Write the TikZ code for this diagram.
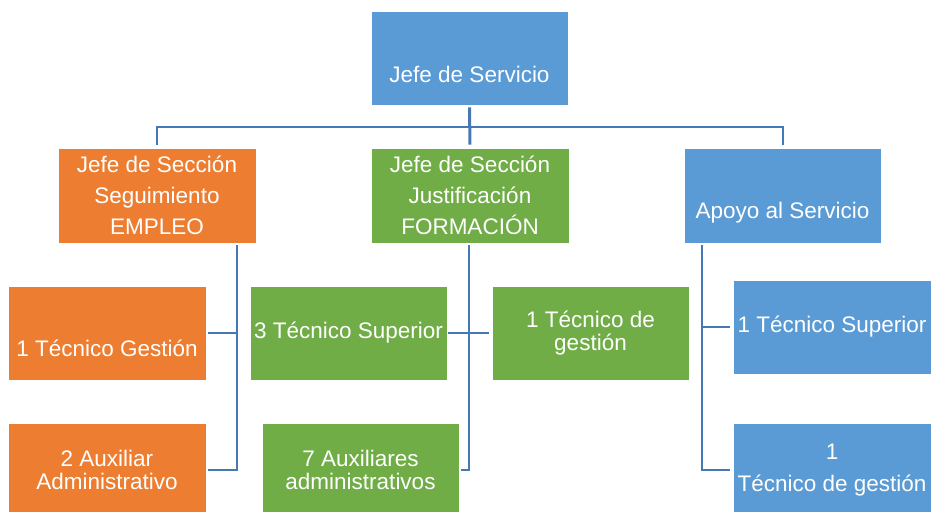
\documentclass[tikz,border=0pt]{standalone}
\usepackage{fontspec}
\setmainfont{Liberation Sans}
\definecolor{servblue}{RGB}{91, 155, 213}
\definecolor{emporange}{RGB}{237, 125, 49}
\definecolor{formgreen}{RGB}{112, 173, 71}
\definecolor{linkblue}{RGB}{70, 120, 180}
\usetikzlibrary{calc}
\newcommand{\orgfont}{\fontsize{22.5}{23}\selectfont}
\tikzset{
  orgbox/.style={fill=#1, draw=white, line width=0.8pt, text=white, font=\orgfont, align=center, inner sep=2pt, minimum width=197pt, minimum height=94pt},
  lowtext/.style={text height=#1, text depth=0pt},
  link/.style={draw=linkblue, line width=2pt}
}

\begin{document}
\begin{tikzpicture}[x=1pt, y=-1pt]
  \useasboundingbox (0, 0) rectangle (931, 511);

  % Jefe de Servicio
  \node[orgbox=servblue, lowtext=48pt] (serv) at (469.5, 58) {Jefe de Servicio};

  % Secciones
  \node[orgbox=emporange, minimum width=198pt, minimum height=95pt] (jemp) at (157, 195.5) {Jefe de Sección\\[8pt]Seguimiento\\[8pt]EMPLEO};
  \node[orgbox=formgreen, minimum width=198pt, minimum height=95pt] (jform) at (470, 195.5) {Jefe de Sección\\[8pt]Justificación\\[8pt]FORMACIÓN};
  \node[orgbox=servblue, minimum height=95pt, lowtext=45pt] (apoyo) at (782.5, 195.5) {Apoyo al Servicio};

  % Personal
  \node[orgbox=emporange, minimum width=198pt, lowtext=46pt] (emp1) at (107, 333) {1 Técnico Gestión};
  \node[orgbox=emporange, minimum width=198pt] (emp2) at (107, 470) {2 Auxiliar\\Administrativo};
  \node[orgbox=formgreen] (frm1) at (348.5, 333) {3 Técnico Superior};
  \node[orgbox=formgreen] (frm2) at (590.5, 333) {1 Técnico de\\gestión};
  \node[orgbox=formgreen] (frm3) at (360.5, 470) {7 Auxiliares\\administrativos};
  \node[orgbox=servblue, minimum width=198pt] (apo1) at (832, 327) {1 Técnico Superior};
  \node[orgbox=servblue, minimum width=198pt] (apo2) at (832, 470) {1\\[9pt]Técnico de gestión};

  % Conexiones
  \coordinate (tee) at ($(serv.south)!.5!(jform.north)$);
  \draw[link, line width=3pt, shorten <=2pt, shorten >=3pt] (serv.south) -- (jform.north);
  \draw[link, shorten <=3pt, shorten >=3pt] (jemp.north) |- (tee) -| (apoyo.north);

  \coordinate (empbus) at ([xshift=-19pt]jemp.south east);
  \draw[link, shorten <=2pt, shorten >=2pt] (empbus) |- (emp1.east);
  \draw[link, shorten <=2pt, shorten >=2pt] (empbus) |- (emp2.east);

  \coordinate (frmbus) at ([xshift=-1pt]jform.south);
  \draw[link, shorten <=2pt, shorten >=2pt] (frmbus) |- (frm3.east);
  \draw[link, shorten <=1pt, shorten >=3pt] (frm1.east) -- (frm2.west);

  \coordinate (apobus) at ([xshift=18pt]apoyo.south west);
  \draw[link, shorten <=2pt, shorten >=3pt] (apobus) |- (apo1.west);
  \draw[link, shorten <=2pt, shorten >=3pt] (apobus) |- (apo2.west);
\end{tikzpicture}
\end{document}
